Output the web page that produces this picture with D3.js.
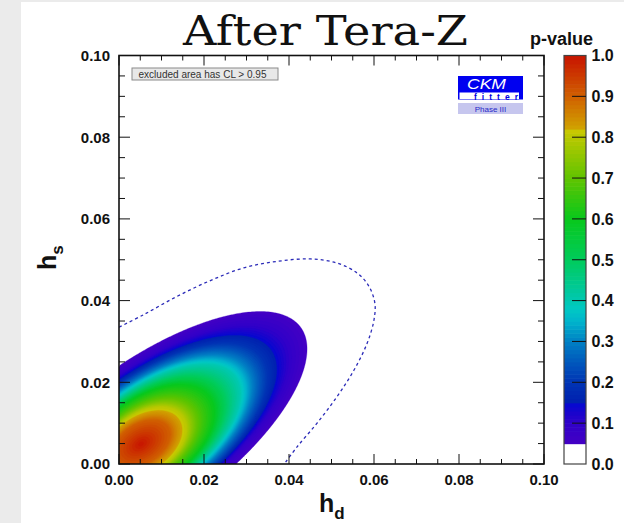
<!DOCTYPE html>
<html>
<head>
<meta charset="utf-8">
<script src="https://cdn.jsdelivr.net/npm/d3@7"></script>
<style>
  html, body { margin: 0; padding: 0; background: #fff; }
  svg { display: block; }
</style>
</head>
<body>
<svg id="chart" width="624" height="523"></svg>
<script>
// ---- p-value level curves in the (h_d, h_s) plane ----
// each level is an ellipse: centre (h_d, h_s), half-axes, tilt of the long axis (deg)
const pLevels   = [0.05,    0.10,    0.20,    0.40,    0.60,    0.80,    0.90];
const levelHd   = [0.00659, 0.00659, 0.00682, 0.00682, 0.00659, 0.00588, 0.00518];
const levelHs   = [0.00612, 0.00612, 0.00588, 0.00588, 0.00563, 0.00514, 0.00490];
const levelMaj  = [0.0447,  0.0395,  0.0329,  0.0254,  0.0179,  0.0111,  0.00753];
const levelMin  = [0.0179,  0.0160,  0.0148,  0.0122,  0.0101,  0.00706, 0.00471];
const levelTilt = [36,      36,      36,      36,      35,      34,      32];
const pMax = 1.0;

// ---- Dashed contour (current constraint) ----
const dashedHd = [0.0000, 0.0057, 0.0136, 0.0215, 0.0293, 0.0372, 0.0450, 0.0513, 0.0561,
                  0.0588, 0.0602, 0.0600, 0.0584, 0.0553, 0.0513, 0.0466, 0.0419, 0.0389];
const dashedHs = [0.0335, 0.0365, 0.0410, 0.0449, 0.0480, 0.0496, 0.0502, 0.0492, 0.0467,
                  0.0435, 0.0394, 0.0353, 0.0296, 0.0230, 0.0165, 0.0100, 0.0042, 0.0000];

// ---- Axes ----
const axisTicks   = [0.00, 0.02, 0.04, 0.06, 0.08, 0.10];
const axisLabels  = ["0.00", "0.02", "0.04", "0.06", "0.08", "0.10"];
const minorStep   = 0.005;
const cbTicks     = [0.0, 0.1, 0.2, 0.3, 0.4, 0.5, 0.6, 0.7, 0.8, 0.9, 1.0];
const cbLabels    = ["0.0", "0.1", "0.2", "0.3", "0.4", "0.5", "0.6", "0.7", "0.8", "0.9", "1.0"];

// ---- Colour palette (p-value -> colour) ----
const paletteP = [0.05, 0.10, 0.145, 0.15, 0.20, 0.25, 0.30, 0.35, 0.38, 0.42, 0.50, 0.60, 0.70, 0.80, 0.815, 0.82, 0.90, 1.00];
const paletteC = ["#4400c4", "#3000c8", "#0808d0", "#0020b0", "#0034b4", "#0058bc", "#0080c4", "#00b4cc",
                  "#00c8c4", "#00c8a0", "#00cc5c", "#08c81c", "#60c400", "#b8c800", "#c8c800", "#d0a400",
                  "#d06000", "#c81400"];

const svg = d3.select("#chart");
const W = 624, H = 523;
const SANS = "'Liberation Sans', Arial, Helvetica, sans-serif";

// page background
svg.append("rect").attr("width", W).attr("height", H).attr("fill", "#ffffff");
svg.append("rect").attr("x", 0).attr("y", 0).attr("width", 21).attr("height", H).attr("fill", "#ebebeb");
svg.append("rect").attr("x", 0).attr("y", 0).attr("width", W).attr("height", 2).attr("fill", "#ebebeb");

const x = d3.scaleLinear().domain([0, 0.1]).range([119, 544]);
const y = d3.scaleLinear().domain([0, 0.1]).range([464, 55.5]);
const color = d3.scaleLinear().domain(paletteP).range(paletteC).interpolate(d3.interpolateRgb).clamp(true);

// ---- p-value field built from the level ellipses ----
const pxPerUnit = (x(0.1) - x(0)) / 0.1;
const levelGeom = pLevels.map((p, k) => {
  const t = levelTilt[k] * Math.PI / 180;
  return { cx: x(levelHd[k]), cy: y(levelHs[k]), c: Math.cos(t), s: Math.sin(t),
           a: levelMaj[k] * pxPerUnit, b: levelMin[k] * pxPerUnit };
});
function ellRadius(g, px, py) {
  const u = px - g.cx, v = g.cy - py;
  const s = u * g.c + v * g.s, n = -u * g.s + v * g.c;
  return Math.sqrt((s / g.a) ** 2 + (n / g.b) ** 2);
}
function pValue(hd, hs) {
  const px = x(hd), py = y(hs);
  const e = levelGeom.map(g => ellRadius(g, px, py));
  const L = pLevels.length;
  if (e[0] >= 1) {
    return pLevels[0] - (pLevels[1] - pLevels[0]) * (e[0] - 1) / Math.max(e[1] - e[0], 1e-6);
  }
  for (let k = 0; k < L - 1; k++) {
    if (e[k + 1] > 1) {
      return pLevels[k] + (pLevels[k + 1] - pLevels[k]) * (1 - e[k]) / (e[k + 1] - e[k]);
    }
  }
  return pLevels[L - 1] + (pMax - pLevels[L - 1]) * (1 - e[L - 1]);
}

const nx = 212, ny = 204;
const dx = 0.1 / nx, dy = 0.1 / ny;
const grid = new Float64Array(nx * ny);
for (let j = 0; j < ny; j++) {
  for (let i = 0; i < nx; i++) {
    grid[i + j * nx] = pValue((i + 0.5) * dx, (j + 0.5) * dy);
  }
}
const thresholds = d3.range(5, 100).map(k => k / 100);
const bands = d3.contours().size([nx, ny]).thresholds(thresholds)(grid);
const toScreen = d3.geoTransform({
  point(gx, gy) { this.stream.point(x(gx * dx), y(gy * dy)); }
});
const geo = d3.geoPath(toScreen);

svg.append("defs").append("clipPath").attr("id", "plotClip")
  .append("rect").attr("x", x(0)).attr("y", y(0.1)).attr("width", x(0.1) - x(0)).attr("height", y(0) - y(0.1));

svg.append("g").attr("clip-path", "url(#plotClip)")
  .selectAll("path").data(bands).join("path")
  .attr("d", geo)
  .attr("fill", d => color(d.value + 0.005))
  .attr("stroke", d => color(d.value + 0.005))
  .attr("stroke-width", 0.3);

// dashed contour
const dashedPts = dashedHd.map((d, i) => [d, dashedHs[i]]);
svg.append("path")
  .attr("clip-path", "url(#plotClip)")
  .attr("d", d3.line().x(d => x(d[0])).y(d => y(d[1])).curve(d3.curveCatmullRom)(dashedPts))
  .attr("fill", "none")
  .attr("stroke", "#2b2bb8")
  .attr("stroke-width", 1.3)
  .attr("stroke-dasharray", "3,3");

// ---- ticks ----
const minor = d3.range(0, 21).map(k => k * minorStep);
const isMajor = v => axisTicks.some(t => Math.abs(t - v) < 1e-9);
const tickG = svg.append("g").attr("stroke", "#111").attr("stroke-width", 1);
minor.forEach(v => {
  const lx = isMajor(v) ? 10 : 5;
  const ly = isMajor(v) ? 11 : 6;
  tickG.append("line").attr("x1", x(v)).attr("x2", x(v)).attr("y1", y(0)).attr("y2", y(0) - lx);
  tickG.append("line").attr("x1", x(v)).attr("x2", x(v)).attr("y1", y(0.1)).attr("y2", y(0.1) + lx);
  tickG.append("line").attr("y1", y(v)).attr("y2", y(v)).attr("x1", x(0)).attr("x2", x(0) + ly);
  tickG.append("line").attr("y1", y(v)).attr("y2", y(v)).attr("x1", x(0.1)).attr("x2", x(0.1) - ly);
});

// frame
svg.append("rect")
  .attr("x", x(0)).attr("y", y(0.1))
  .attr("width", x(0.1) - x(0)).attr("height", y(0) - y(0.1))
  .attr("fill", "none").attr("stroke", "#111").attr("stroke-width", 1.6);

// tick labels
const lab = svg.append("g").attr("font-family", SANS).attr("font-weight", "bold")
  .attr("font-size", 15).attr("fill", "#111");
axisTicks.forEach((v, i) => {
  lab.append("text").attr("x", x(v)).attr("y", 485).attr("text-anchor", "middle").text(axisLabels[i]);
  lab.append("text").attr("x", 110).attr("y", y(v)).attr("dy", "0.36em").attr("text-anchor", "end").text(axisLabels[i]);
});

// axis titles
const xt = svg.append("text").attr("x", 319).attr("y", 512)
  .attr("font-family", SANS).attr("font-weight", "bold").attr("font-size", 25).attr("fill", "#111");
xt.append("tspan").text("h");
xt.append("tspan").attr("dy", 7).attr("font-size", 17).text("d");

const yt = svg.append("text").attr("transform", "translate(56,270) rotate(-90)")
  .attr("font-family", SANS).attr("font-weight", "bold").attr("font-size", 25).attr("fill", "#111");
yt.append("tspan").text("h");
yt.append("tspan").attr("dy", 7).attr("font-size", 17).text("s");

// title
svg.append("text").attr("x", 325.5).attr("y", 45).attr("text-anchor", "middle")
  .attr("font-family", "'DejaVu Serif', serif").attr("font-size", 41).attr("fill", "#111")
  .attr("textLength", 285).attr("lengthAdjust", "spacingAndGlyphs")
  .text("After Tera-Z");

// legend note
svg.append("rect").attr("x", 132).attr("y", 68).attr("width", 146).attr("height", 12)
  .attr("fill", "#e8e8e8").attr("stroke", "#8a8a8a").attr("stroke-width", 1);
svg.append("text").attr("x", 138.5).attr("y", 77.5)
  .attr("font-family", SANS).attr("font-size", 10).attr("fill", "#333")
  .attr("textLength", 128).attr("lengthAdjust", "spacingAndGlyphs")
  .text("excluded area has CL > 0.95");

// CKMfitter logo
const logo = svg.append("g");
logo.append("rect").attr("x", 458).attr("y", 76).attr("width", 65).attr("height", 23.5).attr("fill", "#0000f0");
logo.append("rect").attr("x", 459.5).attr("y", 92.5).attr("width", 59.5).attr("height", 6.5).attr("fill", "#ffffff");
logo.append("text").attr("x", 467).attr("y", 89)
  .attr("font-family", SANS).attr("font-style", "italic").attr("font-size", 14.5).attr("fill", "#fff")
  .attr("textLength", 39).attr("lengthAdjust", "spacingAndGlyphs").text("CKM");
logo.append("text").attr("x", 474).attr("y", 99.5)
  .attr("font-family", SANS).attr("font-weight", "bold").attr("font-size", 8.5).attr("fill", "#0000e0")
  .attr("textLength", 44).attr("lengthAdjust", "spacing").text("fitter");
logo.append("rect").attr("x", 458).attr("y", 103).attr("width", 65).attr("height", 11).attr("fill", "#c6c6ee");
logo.append("text").attr("x", 490.5).attr("y", 111.5).attr("text-anchor", "middle")
  .attr("font-family", SANS).attr("font-size", 8).attr("fill", "#2828c8").text("Phase III");

// ---- colour bar ----
const cb = d3.scaleLinear().domain([0, 1]).range([464, 55.5]);
const cbX = 564, cbW = 22;
const cbG = svg.append("g");
d3.range(0, 100).forEach(k => {
  const lo = k / 100, hi = (k + 1) / 100;
  cbG.append("rect").attr("x", cbX).attr("width", cbW)
    .attr("y", cb(hi)).attr("height", cb(lo) - cb(hi) + 0.6)
    .attr("fill", k < 5 ? "#ffffff" : color(lo + 0.005));
});
cbG.append("rect").attr("x", cbX).attr("y", cb(1)).attr("width", cbW).attr("height", cb(0) - cb(1))
  .attr("fill", "none").attr("stroke", "#444").attr("stroke-width", 1.2);
cbTicks.forEach((v, i) => {
  if (v > 0 && v < 1) {
    cbG.append("line").attr("x1", 572).attr("x2", cbX + cbW).attr("y1", cb(v)).attr("y2", cb(v))
      .attr("stroke", "#111").attr("stroke-width", 1);
  }
  cbG.append("text").attr("x", 591.5).attr("y", cb(v)).attr("dy", "0.36em")
    .attr("font-family", SANS).attr("font-weight", "bold").attr("font-size", 16).attr("fill", "#111")
    .text(cbLabels[i]);
});
svg.append("text").attr("x", 530).attr("y", 45)
  .attr("font-family", SANS).attr("font-weight", "bold").attr("font-size", 18).attr("fill", "#111")
  .text("p-value");
</script>
</body>
</html>
